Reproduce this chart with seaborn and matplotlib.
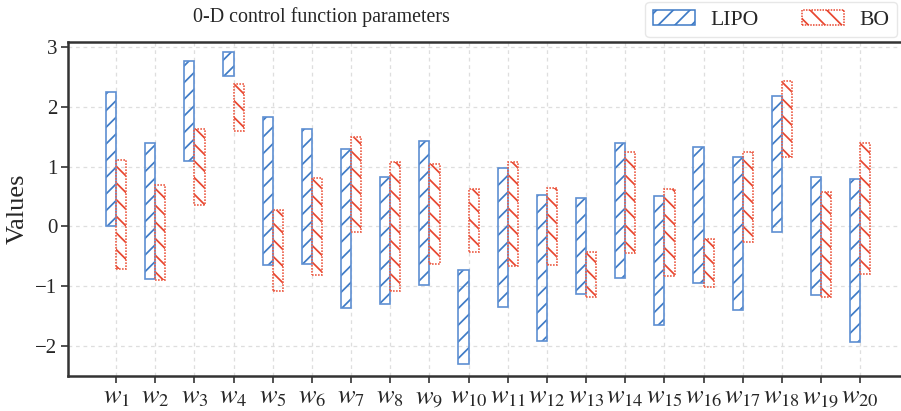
import numpy as np
import matplotlib
matplotlib.use("Agg")
import matplotlib.pyplot as plt
import seaborn as sns
from matplotlib.patches import Patch

# Parameter ranges (lower / upper bound) for each control weight
params = [f"$w_{{{i}}}$" for i in range(1, 21)]

lipo_low = [0.00, -0.89, 1.10, 2.52, -0.65, -0.63, -1.37, -1.31, -0.98, -2.31,
            -1.35, -1.92, -1.14, -0.86, -1.66, -0.95, -1.40, -0.09, -1.16, -1.94]
lipo_high = [2.25, 1.40, 2.77, 2.93, 1.84, 1.63, 1.30, 0.83, 1.43, -0.73,
             0.97, 0.53, 0.47, 1.40, 0.50, 1.33, 1.17, 2.18, 0.83, 0.79]

bo_low = [-0.72, -0.90, 0.36, 1.60, -1.08, -0.82, -0.09, -1.08, -0.63, -0.43,
          -0.66, -0.65, -1.18, -0.45, -0.83, -1.01, -0.26, 1.17, -1.18, -0.80]
bo_high = [1.11, 0.69, 1.63, 2.39, 0.27, 0.81, 1.49, 1.07, 1.04, 0.62,
           1.07, 0.64, -0.43, 1.24, 0.63, -0.21, 1.25, 2.43, 0.58, 1.40]

sns.set_theme(style="white")
plt.rcParams["font.family"] = ["Liberation Serif", "DejaVu Serif"]
plt.rcParams["mathtext.fontset"] = "stix"
plt.rcParams["hatch.linewidth"] = 1.25

BLUE = "#3f7bc6"
RED = "#e8462f"
BLUE_EDGE = "#5e8fd2"
RED_EDGE = "#ec5f48"

fig = plt.figure(figsize=(9.01, 4.11), dpi=100)
W, H = 901, 411
ax = fig.add_axes([68.3 / W, (H - 376) / H, (908 - 68.3) / W, (376 - 42) / H])

x = np.arange(len(params))
width = 0.26

lipo_h = np.array(lipo_high) - np.array(lipo_low)
bo_h = np.array(bo_high) - np.array(bo_low)

# hatch fill
ax.bar(x, lipo_h, width=-width, bottom=lipo_low, align="edge",
       facecolor="none", edgecolor=BLUE, hatch="//", linewidth=0, zorder=3)
ax.bar(x, bo_h, width=width, bottom=bo_low, align="edge",
       facecolor="none", edgecolor=RED, hatch="\\\\", linewidth=0, zorder=3)
# outlines
ax.bar(x, lipo_h, width=-width, bottom=lipo_low, align="edge",
       facecolor="none", edgecolor=BLUE_EDGE, linewidth=1.2, zorder=4)
ax.bar(x, bo_h, width=width, bottom=bo_low, align="edge",
       facecolor="none", edgecolor=RED_EDGE, linewidth=1.2,
       linestyle=(0, (1, 0.8)), zorder=4)

ax.set_xlim(-1.22, 20.22)
ax.set_ylim(-2.51, 3.09)
ax.set_xticks(x)
ax.set_xticklabels(params, fontsize=19)
ax.set_yticks([-2, -1, 0, 1, 2, 3])
ax.set_yticklabels(["\u22122", "\u22121", "0", "1", "2", "3"], fontsize=15)
ax.set_ylabel("Values", fontsize=19)
ax.yaxis.set_label_coords(-0.047, 0.5)

ax.grid(True, linestyle=(0, (3, 3)), color="#dedede", linewidth=0.9, zorder=0)
for side in ["left", "bottom", "top"]:
    ax.spines[side].set_visible(True)
    ax.spines[side].set_color("#333333")
    ax.spines[side].set_linewidth(1.8)
ax.spines["right"].set_visible(False)
ax.tick_params(axis="both", which="both", direction="out", length=5, width=1.2,
               color="#333333", bottom=True, left=True, pad=3)

fig.text(321 / W, 1 - 17 / H, "0-D control function parameters",
         ha="center", va="center", fontsize=14.4)

handles = [
    Patch(facecolor="none", edgecolor=BLUE, hatch="//", linewidth=1.1, label="LIPO"),
    Patch(facecolor="none", edgecolor=RED, hatch="\\\\", linewidth=1.1,
          linestyle=(0, (1, 0.8)), label="BO"),
]
leg = fig.legend(handles=handles, ncol=2, loc="upper right",
                 bbox_to_anchor=(897 / W, 1 - 2 / H), borderaxespad=0,
                 fontsize=15.6, frameon=True, fancybox=True,
                 handlelength=1.95, handleheight=0.7,
                 columnspacing=2.0, borderpad=0.35, handletextpad=0.7)
leg.get_frame().set_edgecolor("#e2e2e2")
leg.get_frame().set_linewidth(1.0)

fig.savefig("out.png", dpi=100)
